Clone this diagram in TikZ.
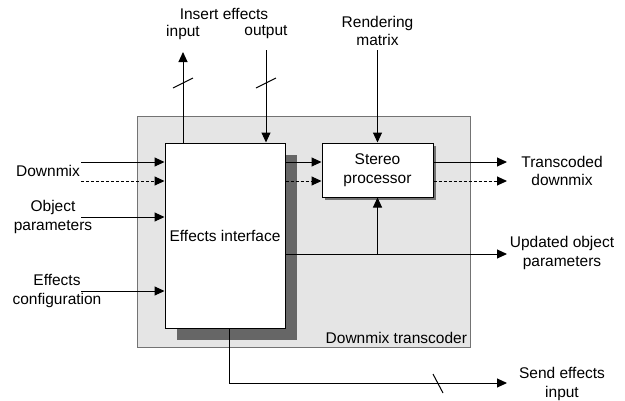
\documentclass[tikz,border=0pt]{standalone}
\usepackage{fontspec}
\setmainfont{Liberation Sans}
\usetikzlibrary{arrows.meta,positioning,shadows}

\begin{document}
\begin{tikzpicture}[
    x=1pt, y=-1pt,
    font=\fontsize{15.5}{18.5}\selectfont,
    >={Triangle[length=10pt,width=9pt]},
    line width=1pt,
    block/.style={draw, fill=white, align=center, inner sep=0pt},
    bigshadow/.style={drop shadow={shadow xshift=12pt, shadow yshift=-12pt, fill=black!60, opacity=1}},
    smallshadow/.style={drop shadow={shadow xshift=3pt, shadow yshift=-3pt, fill=black!55, opacity=1}},
    lbl/.style={align=center, inner sep=0pt},
    sigdash/.style={dash pattern=on 3pt off 2pt}
]
\useasboundingbox (0,0) rectangle (625,400);

\node[draw=black!55, fill=black!10, minimum width=333pt, minimum height=231pt] (transcoder) at (303.5,231.5) {};
\node[anchor=south east, inner sep=3pt] (transcoder_lbl) at (transcoder.south east) {Downmix transcoder};

\node[block, bigshadow, minimum width=120pt, minimum height=185pt] (fx) at (225,235.5) {Effects interface};
\node[block, smallshadow, minimum width=111pt, minimum height=54pt] (stereo) at (377.5,170) {Stereo\\processor};

% Inputs
\coordinate (dmx_in) at (81,162);
\coordinate (dmx_in2) at (81,181);
\coordinate (obj_in) at (81,217);
\coordinate (cfg_in) at (81,291);
\node[lbl] (dmx_lbl) at (48,171) {Downmix};
\node[lbl] (obj_lbl) at (53,217) {Object\\parameters};
\node[lbl] (cfg_lbl) at (57,291) {Effects\\configuration};

\coordinate (ins_in_end) at (183,52);
\coordinate (ins_out_start) at (266,50);
\coordinate (render_start) at (377.5,50);
\node[lbl] (ins_lbl) at (224,14) {Insert effects};
\node[lbl] (ins_in_lbl) at (183,32) {input};
\node[lbl] (ins_out_lbl) at (266,32) {output};
\node[lbl] (render_lbl) at (377.5,31) {Rendering\\matrix};

% Outputs
\coordinate (td_out) at (507,162);
\coordinate (td_out2) at (507,181);
\coordinate (upd_out) at (507,254);
\coordinate (send_out) at (507,383);
\node[lbl] (td_lbl) at (562,171) {Transcoded\\downmix};
\node[lbl] (upd_lbl) at (562,253) {Updated object\\parameters};
\node[lbl] (send_lbl) at (562,384) {Send effects\\input};

% Connections
\draw[->] (dmx_in) -- (dmx_in -| fx.west);
\draw[->, sigdash] (dmx_in2) -- (dmx_in2 -| fx.west);
\draw[->] (obj_in) -- (obj_in -| fx.west);
\draw[->] (cfg_in) -- (cfg_in -| fx.west);

\draw[->] (fx.north -| ins_in_end) -- (ins_in_end);
\draw[->] (ins_out_start) -- (fx.north -| ins_out_start);
\draw[->] (render_start) -- (stereo.north);

\draw[->] (fx.east |- dmx_in) -- (stereo.west |- dmx_in);
\draw[->, sigdash] (fx.east |- dmx_in2) -- (stereo.west |- dmx_in2);
\draw[->] (stereo.east |- td_out) -- (td_out);
\draw[->, sigdash] (stereo.east |- td_out2) -- (td_out2);

\draw[->] (fx.east |- upd_out) -- (upd_out);
\draw[->] (stereo.south |- upd_out) -- (stereo.south);
\draw[->] ([xshift=4pt]fx.south) |- (send_out);

% bus marks
\draw (173,88) -- (193,78);
\draw (256,88) -- (276,78);
\draw (433,374) -- (443,393);

\end{tikzpicture}
\end{document}
